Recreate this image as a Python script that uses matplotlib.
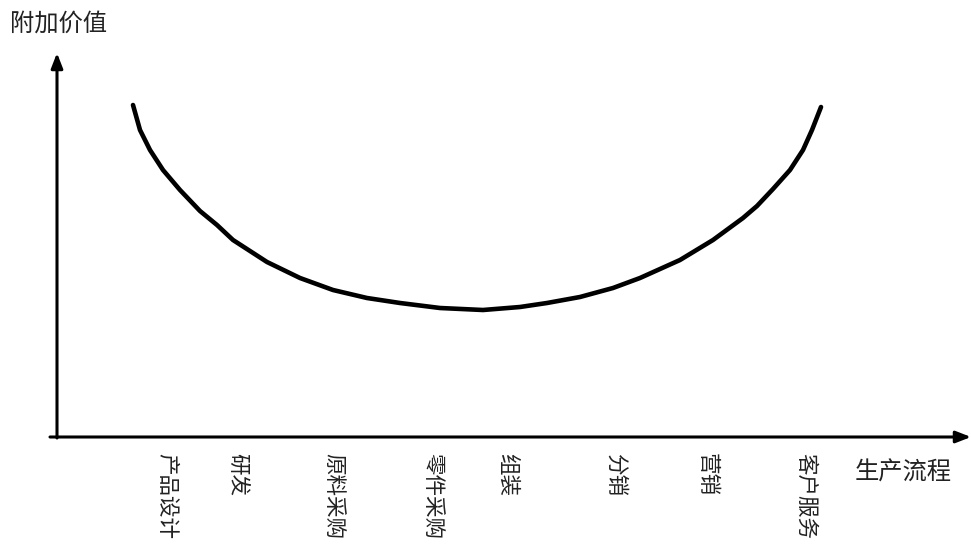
import matplotlib
matplotlib.use("Agg")
import matplotlib.pyplot as plt

plt.rcParams['font.family'] = ['Noto Sans CJK SC', 'DejaVu Sans']

# Data (axis units: origin at the axes' crossing point)
curve_x = [76, 83, 93, 106, 123, 143, 160, 176, 210, 243,
           276, 310, 343, 383, 426, 463, 490, 523, 556, 583,
           623, 656, 686, 700, 716, 733, 746, 755, 764]
curve_y = [332, 307, 287, 267, 247, 226, 212, 197, 175, 159,
           147, 139, 134, 129, 127, 130, 134, 140, 149, 159,
           177, 197, 219, 231, 248, 267, 287, 307, 330]
categories = ['产品设计', '研发', '原料采购', '零件采购', '组装', '分销', '营销', '客户服务']
category_x = [109, 180, 276, 375, 450, 558, 650, 748]
y_label = '附加价值'
x_label = '生产流程'

W, H = 971, 546
fig = plt.figure(figsize=(W / 100, H / 100), dpi=100)
ox, oy = 57, 437          # axes origin in pixels
top, right = 53, 971
ax = fig.add_axes([ox / W, (H - oy) / H, (right - ox) / W, (oy - top) / H])
ax.set_xlim(0, right - ox)
ax.set_ylim(0, oy - top)
ax.axis('off')

ax.plot(curve_x, curve_y, color='black', lw=3.3, solid_capstyle='round',
        solid_joinstyle='round', zorder=3)

# axes arrows
ax.annotate('', xy=(right - ox, 0), xytext=(-7, 0), xycoords='data',
            arrowprops=dict(arrowstyle='-|>,head_length=0.9,head_width=0.35',
                            color='black', lw=2.2, shrinkA=0, shrinkB=0),
            annotation_clip=False)
ax.annotate('', xy=(0, oy - top), xytext=(0, -1), xycoords='data',
            arrowprops=dict(arrowstyle='-|>,head_length=0.9,head_width=0.35',
                            color='black', lw=2.2, shrinkA=0, shrinkB=0),
            annotation_clip=False)

for lab, cx in zip(categories, category_x):
    ax.text(cx, -16, lab, rotation=-90, ha='center', va='top', fontsize=15.5,
            color='#222222', clip_on=False)

fig.text(10 / W, 1 - 24 / H, y_label, ha='left', va='center', fontsize=17.5, color='#222222')
fig.text(855 / W, 1 - 473 / H, x_label, ha='left', va='center', fontsize=17.5, color='#222222')

fig.savefig('out.png', dpi=100, facecolor='white')
